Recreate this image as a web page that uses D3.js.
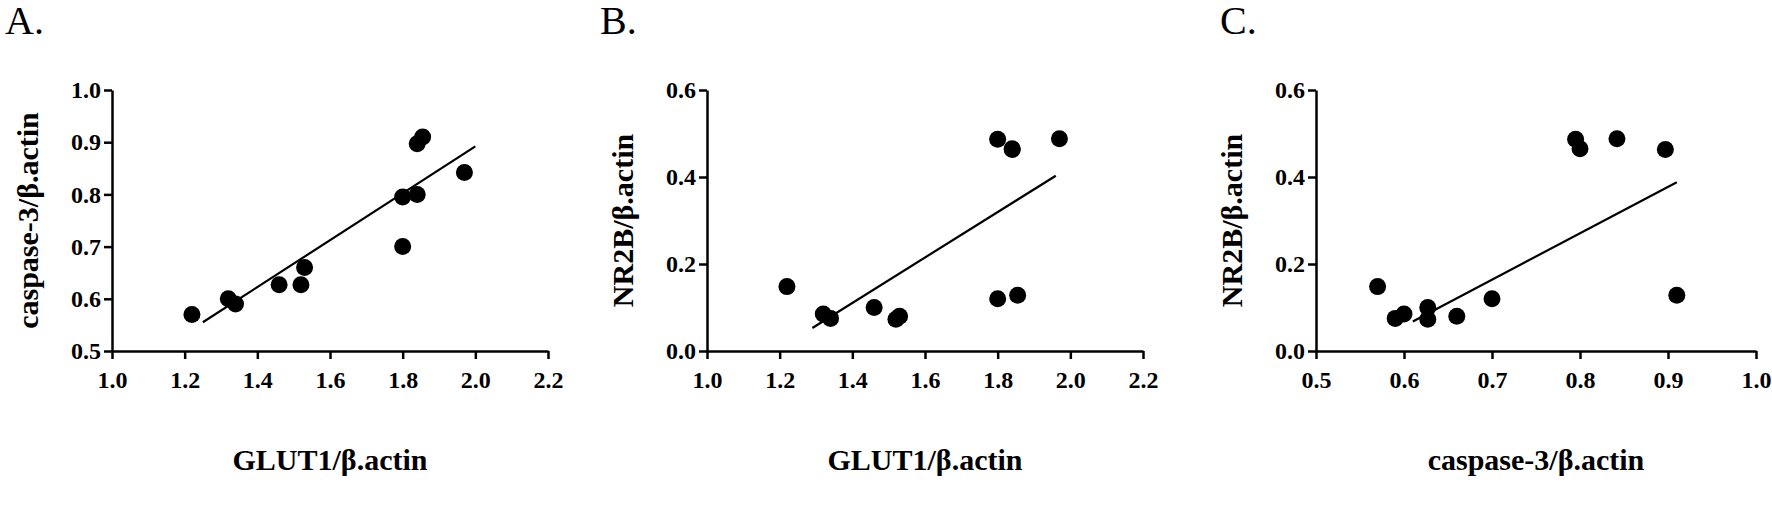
<!DOCTYPE html><html><head><script src="https://cdn.jsdelivr.net/npm/d3@7"></script>
<style>body{margin:0;background:#fff}</style></head><body><svg id="c" width="1772" height="512"></svg>
<script>
const glut1=[1.22,1.32,1.34,1.46,1.52,1.53,1.80,1.80,1.84,1.97,1.84,1.855];
const caspase3=[0.57,0.60,0.59,0.627,0.627,0.66,0.70,0.795,0.80,0.842,0.897,0.91];
const nr2b=[0.148,0.085,0.075,0.10,0.073,0.08,0.12,0.487,0.465,0.488,0.463,0.128];
const xTicksGlut=[1.0,1.2,1.4,1.6,1.8,2.0,2.2];
const yTicksCasp=[0.5,0.6,0.7,0.8,0.9,1.0];
const yTicksNr=[0.0,0.2,0.4,0.6];
const xTicksCasp=[0.5,0.6,0.7,0.8,0.9,1.0];
const fitA=[[1.25,0.555],[2.0,0.892]];
const fitB=[[1.29,0.053],[1.96,0.403]];
const fitC=[[0.61,0.068],[0.91,0.388]];
const panels=[
 {letter:"A.",lx:5,x0:112,w:436,xd:[1.0,2.2],yd:[0.5,1.0],xt:xTicksGlut,yt:yTicksCasp,xs:glut1,ys:caspase3,fit:fitA,xl:"GLUT1/β.actin",yl:"caspase-3/β.actin"},
 {letter:"B.",lx:600,x0:707,w:436,xd:[1.0,2.2],yd:[0,0.6],xt:xTicksGlut,yt:yTicksNr,xs:glut1,ys:nr2b,fit:fitB,xl:"GLUT1/β.actin",yl:"NR2B/β.actin"},
 {letter:"C.",lx:1220,x0:1316,w:440,xd:[0.5,1.0],yd:[0,0.6],xt:xTicksCasp,yt:yTicksNr,xs:caspase3,ys:nr2b,fit:fitC,xl:"caspase-3/β.actin",yl:"NR2B/β.actin"}];
const svg=d3.select("#c");const F="'Liberation Serif','Times New Roman',serif";
panels.forEach(p=>{
 const w=p.w;
 const x=d3.scaleLinear().domain(p.xd).range([p.x0,p.x0+w]);
 const y=d3.scaleLinear().domain(p.yd).range([351,90]);
 svg.append("text").attr("x",p.lx).attr("y",34).attr("font-family",F).attr("font-size",40).text(p.letter);
 const ga=svg.append("g").attr("transform","translate(0,351)").call(d3.axisBottom(x).tickValues(p.xt).tickFormat(d3.format(".1f")).tickSize(8).tickSizeOuter(0));
 const gb=svg.append("g").attr("transform",`translate(${p.x0},0)`).call(d3.axisLeft(y).tickValues(p.yt).tickFormat(d3.format(".1f")).tickSize(8).tickSizeOuter(0));
 [ga,gb].forEach(g=>{g.selectAll("path,line").attr("stroke","#000").attr("stroke-width",2.5);
  g.selectAll("text").attr("font-family",F).attr("font-size",24).attr("font-weight","bold").attr("fill","#000");});
 ga.selectAll("text").attr("dy","1.1em");
 svg.append("line").attr("x1",x(p.fit[0][0])).attr("y1",y(p.fit[0][1])).attr("x2",x(p.fit[1][0])).attr("y2",y(p.fit[1][1])).attr("stroke","#000").attr("stroke-width",2.2);
 svg.append("g").selectAll("circle").data(p.xs).join("circle").attr("cx",d=>x(d)).attr("cy",(d,i)=>y(p.ys[i])).attr("r",8.5).attr("fill","#000");
 svg.append("text").attr("x",p.x0+w/2).attr("y",470).attr("text-anchor","middle").attr("font-family",F).attr("font-size",30).attr("font-weight","bold").text(p.xl);
 svg.append("text").attr("transform",`translate(${p.x0-74},${(90+351)/2}) rotate(-90)`).attr("text-anchor","middle").attr("font-family",F).attr("font-size",30).attr("font-weight","bold").text(p.yl);
});
</script></body></html>
